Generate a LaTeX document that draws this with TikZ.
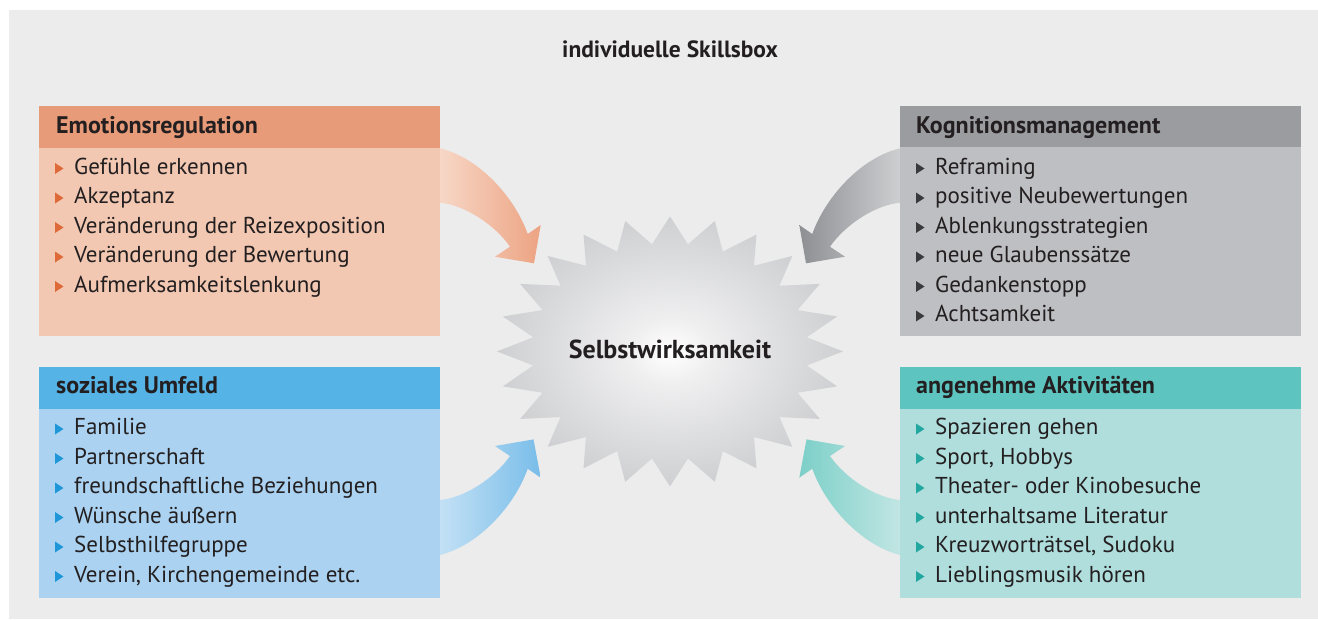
\documentclass[tikz,border=0pt]{standalone}
\usepackage{fontspec}
\setmainfont{PT Sans}
\usetikzlibrary{calc}
\definecolor{bg}{HTML}{EBECEB}
\definecolor{ink}{HTML}{231F20}
\definecolor{oH}{HTML}{E89B79}
\definecolor{oB}{HTML}{F2C8B2}
\definecolor{oBul}{HTML}{DE6A3A}
\definecolor{oL}{HTML}{F8DCCD}
\definecolor{oD}{HTML}{ECA382}
\definecolor{gH}{HTML}{9B9C9F}
\definecolor{gB}{HTML}{BEBFC3}
\definecolor{gBul}{HTML}{3A3A3C}
\definecolor{gL}{HTML}{D4D5D7}
\definecolor{gD}{HTML}{8E8F93}
\definecolor{bH}{HTML}{55B3E6}
\definecolor{bB}{HTML}{ABD3F1}
\definecolor{bBul}{HTML}{1E96D8}
\definecolor{bL}{HTML}{CAE4F6}
\definecolor{bD}{HTML}{79BDE9}
\definecolor{tH}{HTML}{5DC4BF}
\definecolor{tB}{HTML}{AFDEDD}
\definecolor{tBul}{HTML}{21A79F}
\definecolor{tL}{HTML}{C8E8E6}
\definecolor{tD}{HTML}{7CCFC8}
\definecolor{starA}{HTML}{EFEFF0}
\definecolor{starB}{HTML}{C6C7CA}
\definecolor{starC}{HTML}{A4A5A9}
\pgfdeclareradialshading{starshade}{\pgfpoint{0bp}{0bp}}{color(0bp)=(white); color(6bp)=(starA); color(30bp)=(starB); color(50bp)=(starC); color(70bp)=(starC)}
\begin{document}
\begin{tikzpicture}[x=1pt,y=-1pt,
  txt/.style={inner sep=0pt, anchor=base west, text=ink, font=\fontsize{23}{27}\selectfont},
  hd/.style={txt, font=\fontsize{24}{28}\selectfont\bfseries}]
\useasboundingbox (0,0) rectangle (1318,619);
\fill[white] (0,0) rectangle (1318,619);
\fill[bg] (9,10) rectangle (1318,619);
% title
\node[hd, anchor=base, font=\fontsize{23.5}{28}\selectfont\bfseries] (title) at (670,57.7) {individuelle Skillsbox};
% arrows
\shade[left color=oL, right color=oD] (430,148.3) -- (440,148.3) .. controls (480,158) and (515,198) .. (527.7,234) -- (540.7,225) -- (534,263.3) -- (495,256.7) -- (510,246.7) .. controls (495,225) and (465,205) .. (440,202.7) -- (430,202.7) -- cycle;
\shade[left color=gD, right color=gL] (910,148.3) -- (900,148.3) .. controls (860,158) and (825,198) .. (812.3,234) -- (799.3,225) -- (806,263.3) -- (845,256.7) -- (830,246.7) .. controls (845,225) and (875,205) .. (900,202.7) -- (910,202.7) -- cycle;
\shade[left color=bL, right color=bD] (430,555) -- (440,555) .. controls (480,544.7) and (515,504.7) .. (527.7,468.7) -- (540.7,477.7) -- (533.5,439.4) -- (495,446) -- (510,456) .. controls (495,477.7) and (465,497.7) .. (440,500) -- (430,500) -- cycle;
\shade[left color=tD, right color=tL] (910,555) -- (900,555) .. controls (860,544.7) and (825,504.7) .. (812.3,468.7) -- (799.3,477.7) -- (806.5,439.4) -- (845,446) -- (830,456) .. controls (845,477.7) and (875,497.7) .. (900,500) -- (910,500) -- cycle;
% star
\begin{scope}[shift={(670,351.4)}]
\shade[shading=starshade] (90:173pt and 135pt) \foreach \k in {1,...,24}{ -- ({90+15*\k-7.5}:138pt and 108pt) -- ({90+15*\k}:173pt and 135pt)} -- cycle;
\end{scope}
\node[hd, anchor=base, font=\fontsize{26}{30}\selectfont\bfseries] (star) at (670,358.8) {Selbstwirksamkeit};
% box 1
\fill[oB] (39,148) rectangle (440,336);
\fill[oH] (39,106) rectangle (440,148);
\node[hd] (h1) at (56,133.3) {Emotionsregulation};
\foreach \t [count=\i from 0] in {Gefühle erkennen, Akzeptanz, Veränderung der Reizexposition, Veränderung der Bewertung, Aufmerksamkeitslenkung}{
  \node[txt] (e\i) at (74,174+29.5*\i) {\t};
  \fill[oBul] ($(e\i.base west)+(-19,0)$) -- ++(0,-11) -- ++(8.5,5.5) -- cycle;
}
% box 2
\fill[gB] (900,147) rectangle (1301,336);
\fill[gH] (900,106) rectangle (1301,147);
\node[hd] (h2) at (916,133) {Kognitionsmanagement};
\foreach \t [count=\i from 0] in {Reframing, positive Neubewertungen, Ablenkungsstrategien, neue Glaubenssätze, Gedankenstopp, Achtsamkeit}{
  \node[txt] (k\i) at (935,174+29.5*\i) {\t};
  \fill[gBul] ($(k\i.base west)+(-19,0)$) -- ++(0,-11) -- ++(8.5,5.5) -- cycle;
}
% box 3
\fill[bB] (39,408.5) rectangle (440,597.5);
\fill[bH] (39,367) rectangle (440,408.5);
\node[hd] (h3) at (56,393.3) {soziales Umfeld};
\foreach \t [count=\i from 0] in {Familie, Partnerschaft, freundschaftliche Beziehungen, Wünsche äußern, Selbsthilfegruppe, {Verein, Kirchengemeinde etc.}}{
  \node[txt] (s\i) at (74,434.5+29.5*\i) {\t};
  \fill[bBul] ($(s\i.base west)+(-19,0)$) -- ++(0,-11) -- ++(8.5,5.5) -- cycle;
}
% box 4
\fill[tB] (900,408.5) rectangle (1301,597.5);
\fill[tH] (900,367) rectangle (1301,408.5);
\node[hd] (h4) at (916,393.3) {angenehme Aktivitäten};
\foreach \t [count=\i from 0] in {Spazieren gehen, {Sport, Hobbys}, Theater- oder Kinobesuche, unterhaltsame Literatur, {Kreuzworträtsel, Sudoku}, Lieblingsmusik hören}{
  \node[txt] (a\i) at (935,434.5+29.5*\i) {\t};
  \fill[tBul] ($(a\i.base west)+(-19,0)$) -- ++(0,-11) -- ++(8.5,5.5) -- cycle;
}
\end{tikzpicture}
\end{document}
